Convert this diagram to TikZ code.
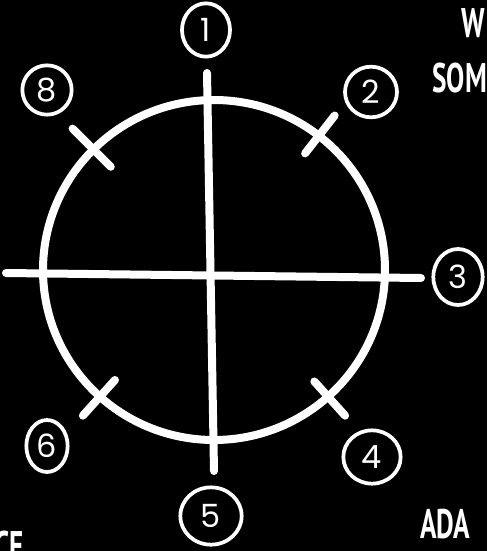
\documentclass[tikz,border=0pt]{standalone}
\usepackage{fontspec}
\setmainfont{Poppins}
\newfontfamily\scrawlfont[FakeStretch=0.66]{PT Sans}
\usepackage{tikz}
\usetikzlibrary{shapes.geometric,calc}
\definecolor{BoardBlack}{HTML}{000000}
\definecolor{ChalkWhite}{HTML}{FFFFFF}
\tikzset{
  chalk/.style={draw=ChalkWhite,line width=6pt,line cap=round},
  numring/.style={ellipse,draw=ChalkWhite,line width=2.8pt,text=ChalkWhite,
                  font=\fontsize{24}{24}\selectfont,inner sep=0pt},
  scrawl/.style={text=ChalkWhite,font=\scrawlfont\bfseries\fontsize{31}{31}\selectfont,inner sep=0pt,anchor=base west}
}

\begin{document}
\begin{tikzpicture}[x=0.75pt,y=-0.75pt]
    % board
    \fill[BoardBlack] (0,0) rectangle (487,551);
    \useasboundingbox (0,0) rectangle (487,551);
    \clip (0,0) rectangle (487,551);
    % wheel
    \coordinate (ctr) at (214,270);
    \draw[chalk] (ctr) ellipse [x radius=171, y radius=170];
    \coordinate (westEnd)  at (6,273);
    \coordinate (eastEnd)  at (421,278);
    \coordinate (northEnd) at (207,73);
    \coordinate (southEnd) at (214,471);
    \draw[chalk] (westEnd) -- (eastEnd);
    \draw[chalk] (northEnd) -- (southEnd);
    % ticks
    \draw[chalk] ($(ctr)+(-52:148)$) -- ($(ctr)+(-52:196)$);
    \draw[chalk] ($(ctr)+(-135:146)$) -- ($(ctr)+(-135:200)$);
    \draw[chalk] ($(ctr)+(48:150)$) -- ($(ctr)+(48:196)$);
    \draw[chalk] ($(ctr)+(132:148)$) -- ($(ctr)+(132:196)$);
    % numbers
    \node[numring,minimum width=36pt,minimum height=40pt] (n1) at (206,30)  {1};
    \node[numring,minimum width=39pt,minimum height=38pt] (n2) at (371,92)  {2};
    \node[numring,minimum width=37pt,minimum height=42pt] (n3) at (458,277) {3};
    \node[numring,minimum width=43pt,minimum height=40pt] (n4) at (372,457) {4};
    \node[numring,minimum width=46pt,minimum height=43pt] (n5) at (211,516) {5};
    \node[numring,minimum width=31pt,minimum height=39pt] (n6) at (47,446)  {6};
    \node[numring,minimum width=37pt,minimum height=37pt] (n8) at (47,90)   {8};
    % notes at the edges
    \node[scrawl] (noteW)   at (461,37)  {W};
    \node[scrawl] (noteSom) at (432,92)  {SOM};
    \node[scrawl] (noteAda) at (420,538) {ADA};
    \node[scrawl] (noteCe)  at (-6,560)  {CE};
  \end{tikzpicture}
\end{document}
